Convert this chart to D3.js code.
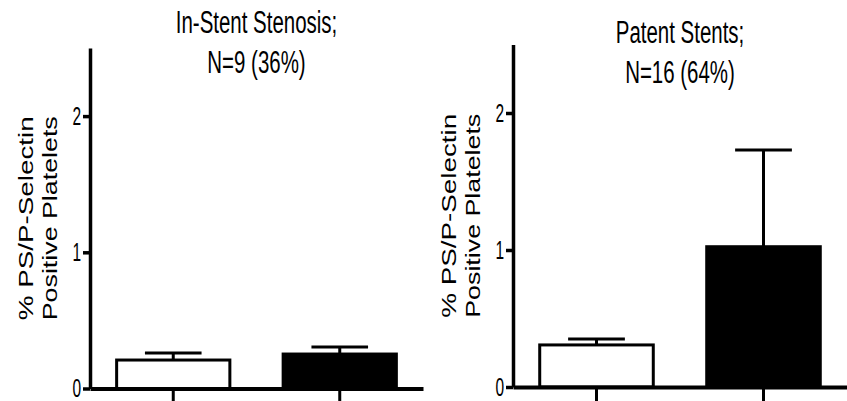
<!DOCTYPE html>
<html>
<head>
<meta charset="utf-8">
<script src="https://cdn.jsdelivr.net/npm/d3@7"></script>
<style>
  body { margin: 0; background: #fff; }
  svg { display: block; }
</style>
</head>
<body>
<svg id="chart" width="847" height="401"></svg>
<script>
// groups on the x axis (labels sit below the visible area)
const groups = ["Unstimulated", "Stimulated"];

// in-stent stenosis panel
const isrMeans = [0.209, 0.253];
const isrErrors = [0.052, 0.051];

// patent stents panel
const patentMeans = [0.307, 1.024];
const patentErrors = [0.043, 0.706];

const yTicks = [0, 1, 2];
const yLabelLines = ["% PS/P-Selectin", "Positive Platelets"];
const isrTitle = ["In-Stent Stenosis;", "N=9 (36%)"];
const patentTitle = ["Patent Stents;", "N=16 (64%)"];

const barFills = ["#fff", "#000"];

const svg = d3.select("#chart");

// condensed text helper: squeeze a normal face horizontally
function condensed(g, x, y, str, size, squeeze, anchor) {
  return g.append("text")
    .attr("transform", `translate(${x},${y}) scale(${squeeze},1)`)
    .attr("text-anchor", anchor)
    .style("font-family", "'Liberation Sans', Arial, sans-serif")
    .style("font-size", size + "px")
    .text(str);
}

function drawPanel(opts) {
  const { left, right, top, zero, means, errors, title, titleY } = opts;

  const x = d3.scaleBand()
    .domain(groups)
    .range([left, right])
    .paddingInner(0.32)
    .paddingOuter(0.16);

  const y = d3.scaleLinear()
    .domain([0, 2.5])
    .range([zero, top]);

  const g = svg.append("g");

  // bars
  g.selectAll(".bar")
    .data(groups)
    .join("rect")
    .attr("x", (d) => x(d))
    .attr("y", (d, i) => y(means[i]))
    .attr("width", x.bandwidth())
    .attr("height", (d, i) => y(0) - y(means[i]))
    .style("fill", (d, i) => barFills[i])
    .style("stroke", "#000")
    .style("stroke-width", 3);

  // upper error bars
  const cap = x.bandwidth() / 2;
  groups.forEach((d, i) => {
    const cx = x(d) + x.bandwidth() / 2;
    g.append("line")
      .attr("x1", cx).attr("x2", cx)
      .attr("y1", y(means[i])).attr("y2", y(means[i] + errors[i]))
      .style("stroke", "#000").style("stroke-width", 3);
    g.append("line")
      .attr("x1", cx - cap / 2).attr("x2", cx + cap / 2)
      .attr("y1", y(means[i] + errors[i])).attr("y2", y(means[i] + errors[i]))
      .style("stroke", "#000").style("stroke-width", 3);
  });

  // y axis
  const yAxis = g.append("g")
    .attr("transform", `translate(${left},0)`)
    .call(d3.axisLeft(y).tickValues(yTicks).tickSize(7).tickSizeOuter(0).tickFormat(""));
  yAxis.select(".domain").style("stroke-width", 3.5);
  yAxis.selectAll(".tick line").style("stroke-width", 3.5);

  yTicks.forEach((t) => {
    condensed(g, left - 9, y(t) + 8.5, String(t), 25, 0.62, "end");
  });

  // x axis
  const xAxis = g.append("g")
    .attr("transform", `translate(0,${zero})`)
    .call(d3.axisBottom(x).tickSize(14).tickSizeOuter(0).tickFormat(""));
  xAxis.select(".domain").style("stroke-width", 4);
  xAxis.selectAll(".tick line").style("stroke-width", 3);

  // y axis title, two stretched lines
  const mid = (top + zero) / 2;
  yLabelLines.forEach((line, i) => {
    g.append("text")
      .attr("transform", `translate(${left - 57 + i * 24},${mid}) rotate(-90)`)
      .attr("text-anchor", "middle")
      .attr("textLength", 204)
      .attr("lengthAdjust", "spacingAndGlyphs")
      .style("font-family", "'Liberation Sans', Arial, sans-serif")
      .style("font-size", "21px")
      .text(line);
  });

  // panel title
  const cxTitle = (left + right) / 2;
  title.forEach((line, i) => {
    condensed(g, cxTitle, titleY + i * 39.5, line, 31, 0.66, "middle");
  });
}

drawPanel({
  left: 90, right: 423, top: 48, zero: 388.5,
  means: isrMeans, errors: isrErrors,
  title: isrTitle, titleY: 33,
});

drawPanel({
  left: 513, right: 847, top: 44.5, zero: 387,
  means: patentMeans, errors: patentErrors,
  title: patentTitle, titleY: 43,
});
</script>
</body>
</html>
